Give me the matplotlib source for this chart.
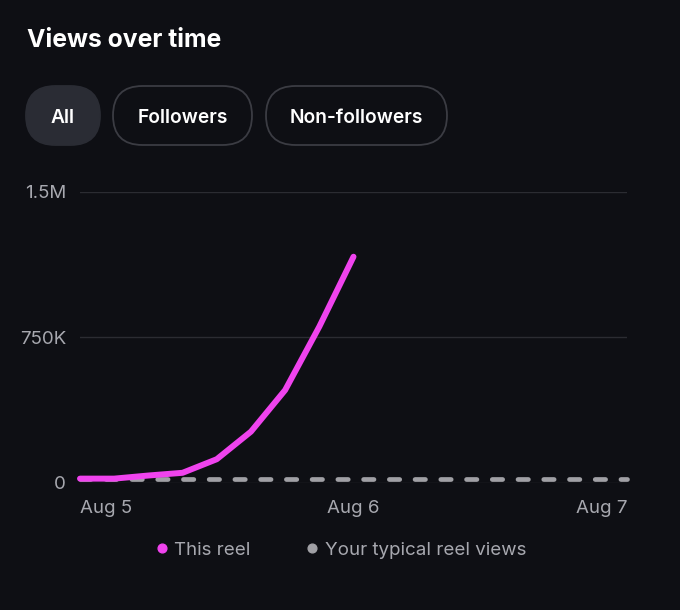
import matplotlib
matplotlib.use("Agg")
import matplotlib.pyplot as plt
from matplotlib.patches import FancyBboxPatch
from matplotlib.lines import Line2D

plt.rcParams['font.family'] = ['Inter', 'DejaVu Sans']

# data (hours after Aug 5, 00:00)
hours = [0, 3, 6, 9, 12, 15, 18, 21, 24]
this_reel = [22000, 22000, 38000, 52000, 122000, 264000, 478000, 805000, 1165000]
typical_hours = [0, 6, 12, 18, 24, 30, 36, 42, 48]
typical_views = [20000, 20000, 20000, 20000, 20000, 20000, 20000, 20000, 20000]
y_ticks = [0, 750000, 1500000]
y_labels = ["0", "750K", "1.5M"]
x_ticks = [0, 24, 48]
x_labels = ["Aug 5", "Aug 6", "Aug 7"]
tabs = ["All", "Followers", "Non-followers"]
legend_labels = ["This reel", "Your typical reel views"]

BG = "#0e0f14"
PINK = "#f043ee"
GREY = "#a0a0a5"
TXT = "#a7a8af"
W, H = 680, 610

fig = plt.figure(figsize=(6.8, 6.1), dpi=100, facecolor=BG)

def fx(px):
    return px / W

def fy(py):
    return 1 - py / H

# title
fig.text(fx(27), fy(46.7), "Views over time", color="white", fontsize=17.8,
         fontweight="bold", ha="left", va="baseline")

# filter pills
pills = [(26, 100), (113, 252), (266, 447)]
for i, (lbl, (x0, x1)) in enumerate(zip(tabs, pills)):
    y0, y1 = 86, 145
    r = (y1 - y0) / 2
    box = FancyBboxPatch((x0 + r, H - y1 + r), (x1 - x0) - 2 * r, (y1 - y0) - 2 * r,
                         boxstyle=f"round,pad={r}", transform=None,
                         facecolor="#2a2c34" if i == 0 else BG,
                         edgecolor="#2a2c34" if i == 0 else "#3b3c43", lw=1.3)
    fig.add_artist(box)
    fig.text(fx((x0 + x1) / 2), fy(122.7), lbl, color="white", fontsize=13.8,
             fontweight="semibold", ha="center", va="baseline")

# chart area
ax = fig.add_axes([fx(80), fy(482.9), fx(627 - 80), (482.9 - 191.7) / H])
ax.set_facecolor(BG)
ax.plot(typical_hours, typical_views, color=GREY, lw=3.4, dashes=(2.2, 3.25),
        dash_capstyle="round", clip_on=False, zorder=3)
ax.plot(hours, this_reel, color=PINK, lw=4.3, solid_capstyle="round",
        solid_joinstyle="round", clip_on=False, zorder=4)

ax.set_xlim(0, 48)
ax.set_ylim(0, 1500000)
ax.set_yticks(y_ticks)
ax.set_yticklabels(y_labels)
ax.set_xticks(x_ticks)
ax.set_xticklabels(x_labels)
for lab, ha in zip(ax.get_xticklabels(), ["left", "center", "right"]):
    lab.set_ha(ha)
ax.tick_params(axis="both", length=0, colors=TXT, labelsize=13.5)
ax.tick_params(axis="y", pad=10)
ax.tick_params(axis="x", pad=12.5)
ax.grid(axis="y", color="#2b2c32", lw=1)
ax.set_axisbelow(True)
for s in ax.spines.values():
    s.set_visible(False)

# legend
for dot_x, txt_x, col, lbl in [(161.5, 174, PINK, legend_labels[0]),
                               (311.5, 325, GREY, legend_labels[1])]:
    fig.add_artist(Line2D([fx(dot_x)], [fy(548.3)], marker="o", markersize=6.3,
                          color=col, lw=0, transform=fig.transFigure))
    fig.text(fx(txt_x), fy(555), lbl, color=TXT, fontsize=13.5, ha="left", va="baseline")

fig.savefig("out.png", dpi=100, facecolor=BG)
